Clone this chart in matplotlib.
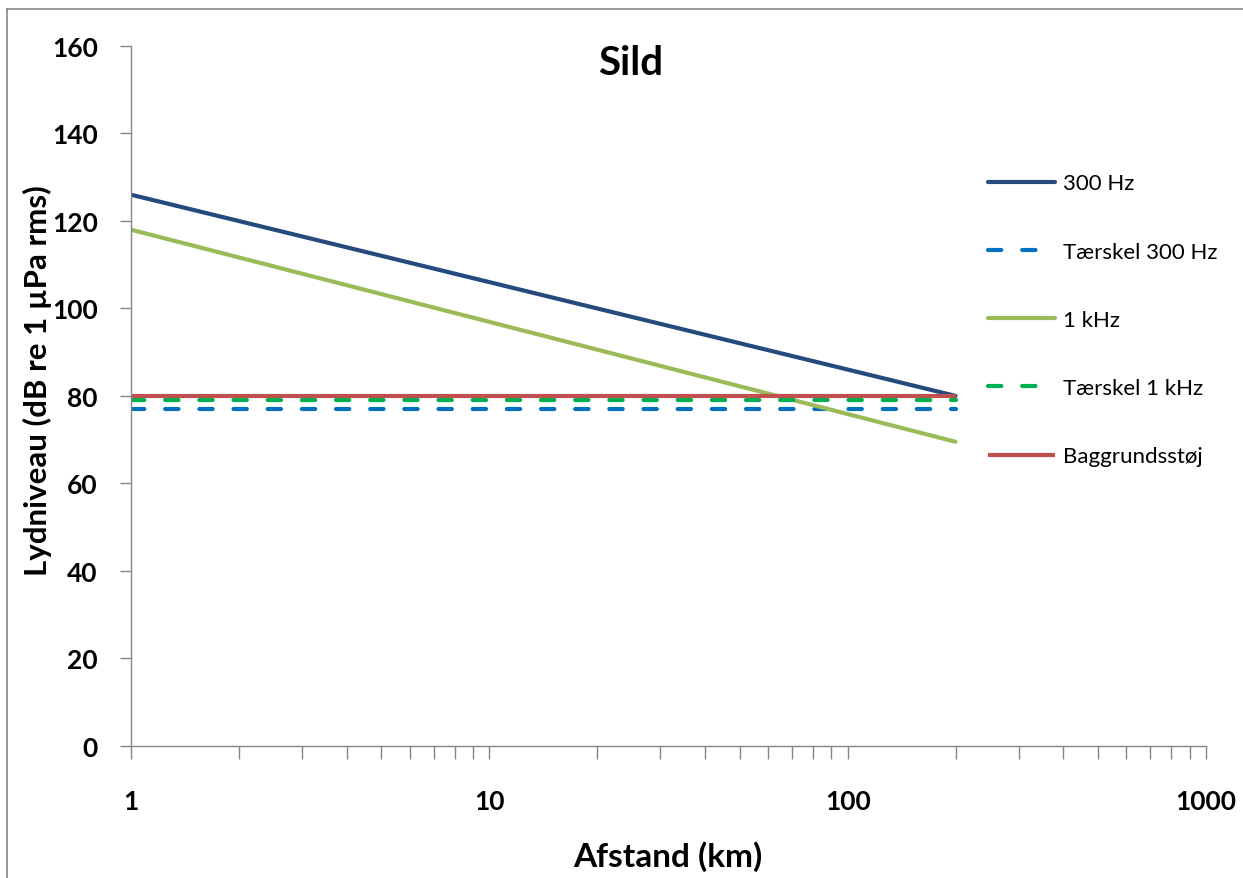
import matplotlib.pyplot as plt
from matplotlib.ticker import LogLocator, FixedLocator, NullFormatter
from matplotlib.lines import Line2D

plt.rcParams['font.family'] = ['Lato', 'DejaVu Sans']

# afstand (km) og lydniveau (dB re 1 uPa rms)
afstand = [1, 200]
hz300 = [126, 80]
taerskel_300 = [77, 77]
khz1 = [118, 69.5]
taerskel_1k = [79, 79]
baggrund = [80, 80]

labels = ['300 Hz', 'Tærskel 300 Hz', '1 kHz', 'Tærskel 1 kHz', 'Baggrundsstøj']

fig = plt.figure(figsize=(12.43, 8.79), dpi=100)
ax = fig.add_axes([0.1054, 0.1505, 0.8648, 0.796])

lw = 3.0
l1, = ax.plot(afstand, hz300, color='#254A7E', lw=lw, solid_capstyle='round')
l2, = ax.plot(afstand, taerskel_300, color='#0070C0', lw=lw, dashes=(3.2, 5),
              dash_capstyle='round')
l3, = ax.plot(afstand, khz1, color='#9BBB59', lw=lw, solid_capstyle='round')
l4, = ax.plot(afstand, taerskel_1k, color='#00B050', lw=lw, dashes=(3.2, 5),
              dash_capstyle='round')
l5, = ax.plot(afstand, baggrund, color='#C0504D', lw=lw, solid_capstyle='butt')

ax.set_xscale('log')
ax.set_xlim(1, 1000)
ax.set_ylim(0, 160)
ax.yaxis.set_major_locator(FixedLocator(range(0, 161, 20)))
ax.xaxis.set_major_locator(FixedLocator([1, 10, 100, 1000]))
ax.xaxis.set_major_formatter(plt.FuncFormatter(lambda v, p: '%d' % v))
ax.xaxis.set_minor_locator(LogLocator(base=10, subs=range(2, 10)))
ax.xaxis.set_minor_formatter(NullFormatter())

for s in ['top', 'right']:
    ax.spines[s].set_visible(False)
for s in ['left', 'bottom']:
    ax.spines[s].set_color('#868686')
    ax.spines[s].set_linewidth(1.0)

ax.tick_params(axis='y', direction='out', length=8, width=1, color='#868686',
               pad=16, labelsize=19)
ax.tick_params(axis='x', which='both', direction='out', length=9, width=1,
               color='#868686', pad=22, labelsize=19)
for t in ax.get_xticklabels() + ax.get_yticklabels():
    t.set_fontweight('bold')

fig.text(668 / 1243, 1 - 857 / 879, 'Afstand (km)', ha='center', va='center',
         fontsize=24, fontweight='bold')
fig.text(37 / 1243, 1 - 381 / 879, 'Lydniveau (dB re 1 µPa rms)', ha='center',
         va='center', rotation=90, fontsize=22.5, fontweight='bold')

fig.text(0.507, 0.928, 'Sild', ha='center', va='center', fontsize=29,
         fontweight='bold')

leg = fig.legend([l1, l2, l3, l4, l5], labels, loc='upper left',
                 bbox_to_anchor=(0.795, 0.8015), frameon=False, fontsize=16,
                 handlelength=3.0, handletextpad=0.35, labelspacing=2.17,
                 borderaxespad=0, borderpad=0)

# ydre ramme
fig.add_artist(Line2D([7 / 1243, 7 / 1243], [0, 1 - 10 / 879],
                      transform=fig.transFigure, color='#868686', lw=1.2))
fig.add_artist(Line2D([7 / 1243, 1], [1 - 10 / 879, 1 - 10 / 879],
                      transform=fig.transFigure, color='#868686', lw=1.2))

plt.savefig('out.png', dpi=100)
